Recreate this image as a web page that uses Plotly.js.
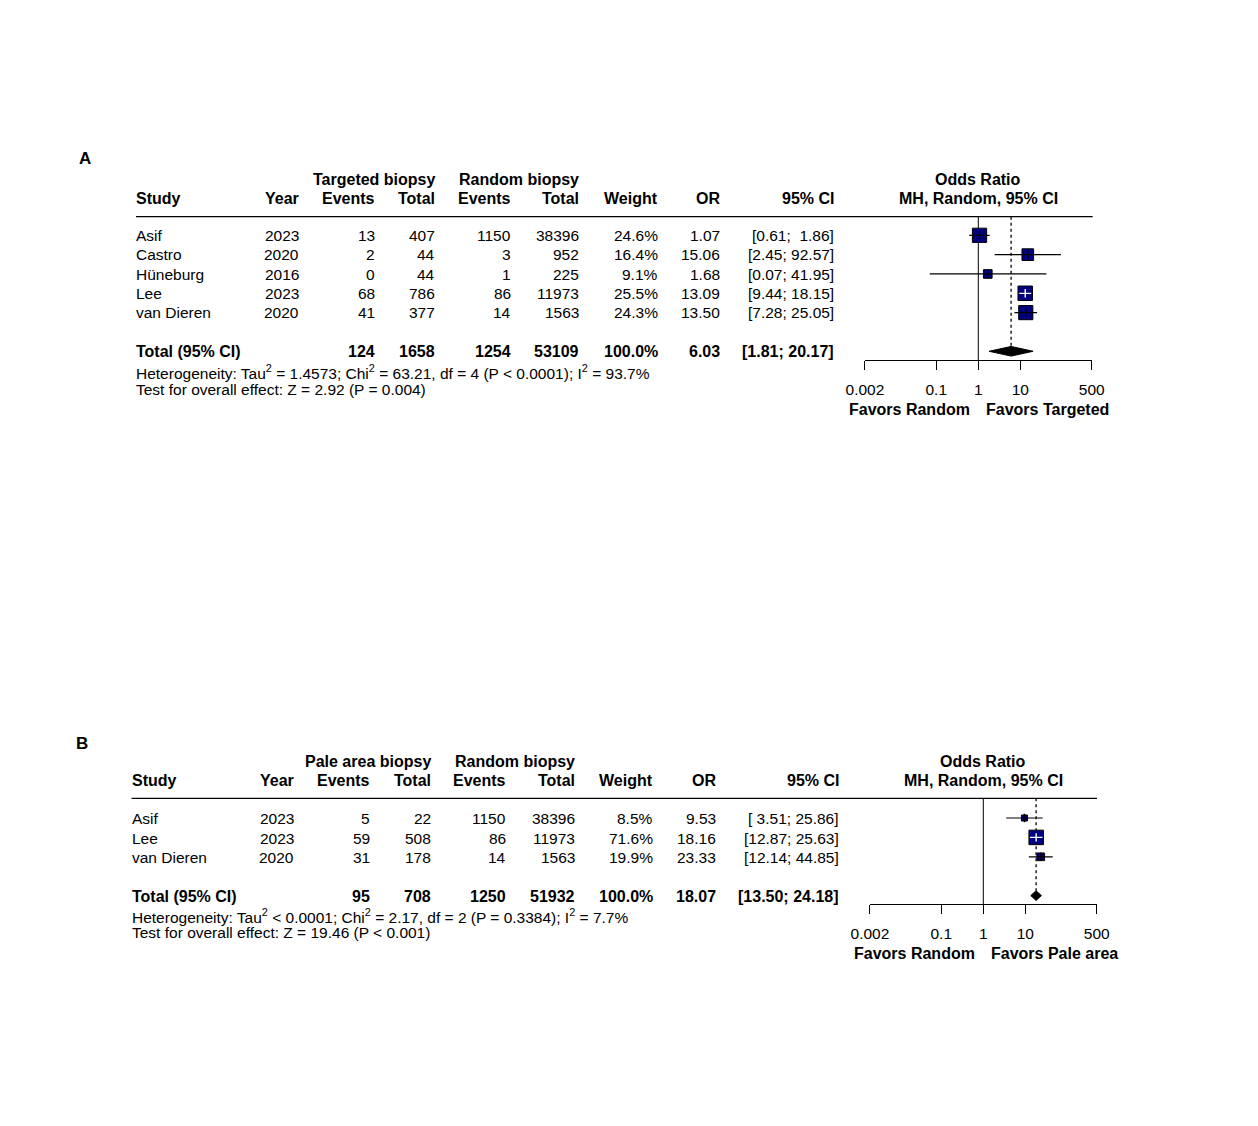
<!DOCTYPE html>
<html><head><meta charset="utf-8">
<script src="https://cdn.plot.ly/plotly-3.0.1.min.js"></script>
<style>html,body{margin:0;padding:0;background:#fff}</style>
</head><body><div id="chart" style="width:1258px;height:1126px"></div>
<script>
// ---------- Panel A data ----------
const studiesA = ['Asif', 'Castro', 'Hüneburg', 'Lee', 'van Dieren'];
const yearsA   = [2023, 2020, 2016, 2023, 2020];
const evExpA   = [13, 2, 0, 68, 41];
const totExpA  = [407, 44, 44, 786, 377];
const evRndA   = [1150, 3, 1, 86, 14];
const totRndA  = [38396, 952, 225, 11973, 1563];
const weightA  = [24.6, 16.4, 9.1, 25.5, 24.3];
const orA      = [1.07, 15.06, 1.68, 13.09, 13.50];
const loA      = [0.61, 2.45, 0.07, 9.44, 7.28];
const hiA      = [1.86, 92.57, 41.95, 18.15, 25.05];
const totalA   = [124, 1658, 1254, 53109];      // events/total exp, events/total random
const pooledA  = [6.03, 1.81, 20.17];           // OR, lower, upper
const hetA     = 'Heterogeneity: Tau<sup>2</sup> = 1.4573; Chi<sup>2</sup> = 63.21, df = 4 (P &lt; 0.0001); I<sup>2</sup> = 93.7%';
const testA    = 'Test for overall effect: Z = 2.92 (P = 0.004)';
const groupA   = 'Targeted biopsy';
const favorsA  = ['Favors Random', 'Favors Targeted'];

// ---------- Panel B data ----------
const studiesB = ['Asif', 'Lee', 'van Dieren'];
const yearsB   = [2023, 2023, 2020];
const evExpB   = [5, 59, 31];
const totExpB  = [22, 508, 178];
const evRndB   = [1150, 86, 14];
const totRndB  = [38396, 11973, 1563];
const weightB  = [8.5, 71.6, 19.9];
const orB      = [9.53, 18.16, 23.33];
const loB      = [3.51, 12.87, 12.14];
const hiB      = [25.86, 25.63, 44.85];
const totalB   = [95, 708, 1250, 51932];
const pooledB  = [18.07, 13.50, 24.18];
const hetB     = 'Heterogeneity: Tau<sup>2</sup> &lt; 0.0001; Chi<sup>2</sup> = 2.17, df = 2 (P = 0.3384); I<sup>2</sup> = 7.7%';
const testB    = 'Test for overall effect: Z = 19.46 (P &lt; 0.001)';
const groupB   = 'Pale area biopsy';
const favorsB  = ['Favors Random', 'Favors Pale area'];

// shared
const tickVals   = [0.002, 0.1, 1, 10, 500];
const tickLabels = ['0.002', '0.1', '1', '10', '500'];
const axisMin = 0.002, axisMax = 500;

// ---------- layout helpers ----------
const W = 1258, H = 1126;
const FONT = '"Liberation Sans", Arial, Helvetica, sans-serif';
const FS = 15.5, FSB = 16;
const px = x => x / W;
const py = y => 1 - y / H;
const NB = '\u00A0';
function padL(s, n) { while (s.length < n) s = NB + s; return s; }
function ciText(lo, hi) {
  const ls = lo.map(v => v.toFixed(2)), hs = hi.map(v => v.toFixed(2));
  const ln = Math.max(...ls.map(s => s.length)), hn = Math.max(...hs.map(s => s.length));
  return ls.map((s, i) => '[' + padL(s, ln) + ';' + NB + padL(hs[i], hn) + ']');
}

const traces = [], annotations = [], shapes = [], layout = {};

function buildPanel(p) {
  const n = p.studies.length;
  const rowPx = r => p.row0 + p.step * r;
  const rowOf = y => (y - p.row0) / p.step;
  const xa = p.ax === 1 ? 'x' : 'x' + p.ax, ya = p.ax === 1 ? 'y' : 'y' + p.ax;
  const xk = p.ax === 1 ? 'xaxis' : 'xaxis' + p.ax, yk = p.ax === 1 ? 'yaxis' : 'yaxis' + p.ax;
  const rows = p.studies.map((_, i) => i);
  const totRow = n + 1;

  layout[xk] = {
    type: 'log', domain: [px(p.fx0), px(p.fx1)],
    range: [Math.log10(axisMin), Math.log10(axisMax)],
    anchor: 'free', position: py(p.axisY),
    showline: true, linecolor: '#000', linewidth: 1, mirror: false,
    ticks: 'outside', ticklen: 9, tickwidth: 1, tickcolor: '#000',
    tickmode: 'array', tickvals: tickVals, ticktext: tickLabels,
    tickfont: { family: FONT, size: FS, color: '#000' },
    ticklabelstandoff: 6,
    showgrid: false, zeroline: false, fixedrange: true
  };
  layout[yk] = {
    domain: [py(p.yBot), py(p.yTop)], range: [rowOf(p.yBot), rowOf(p.yTop)],
    anchor: xa, visible: false, showgrid: false, zeroline: false, fixedrange: true
  };

  // null line and pooled dashed line
  traces.push({ x: [1, 1], y: [rowOf(p.headY), rowOf(p.axisY)], xaxis: xa, yaxis: ya,
    mode: 'lines', line: { color: '#000', width: 1 }, hoverinfo: 'skip' });
  traces.push({ x: [p.pooled[0], p.pooled[0]], y: [rowOf(p.headY), totRow - 0.25], xaxis: xa, yaxis: ya,
    mode: 'lines', line: { color: '#000', width: 1.3, dash: '3px,3px' }, hoverinfo: 'skip' });

  // squares
  const maxW = Math.max(...p.weight);
  const sizes = p.weight.map(w => Math.max(6, 14.5 * Math.sqrt(w / maxW)));
  traces.push({ x: p.or, y: rows, xaxis: xa, yaxis: ya, mode: 'markers',
    marker: { symbol: 'square', size: sizes, color: '#000080', opacity: 1, line: { color: '#000', width: 1 } },
    hoverinfo: 'skip' });

  // CI lines (white when the interval lies inside the square)
  const pxPerDec = (p.fx1 - p.fx0) / (Math.log10(axisMax) - Math.log10(axisMin));
  const inside = rows.map(i => Math.log10(p.hi[i] / p.lo[i]) * pxPerDec < sizes[i]);
  ['#000', '#fff'].forEach((col, k) => {
    const xs = [], ys = [];
    rows.forEach(i => { if (inside[i] === (k === 1)) { xs.push(p.lo[i], p.hi[i], null); ys.push(i, i, null); } });
    traces.push({ x: xs, y: ys, xaxis: xa, yaxis: ya, mode: 'lines',
      line: { color: col, width: 1.2 }, hoverinfo: 'skip', connectgaps: false });
  });
  traces.push({ x: p.or, y: rows, xaxis: xa, yaxis: ya, mode: 'markers',
    marker: { symbol: 'line-ns', size: 6, opacity: 1, line: { color: inside.map(b => b ? '#fff' : '#000'), width: 1.4 } },
    hoverinfo: 'skip' });

  // pooled diamond
  const [est, plo, phi] = p.pooled;
  traces.push({ x: [plo, est, phi, est, plo], y: [totRow, totRow - 0.25, totRow, totRow + 0.25, totRow],
    xaxis: xa, yaxis: ya, mode: 'lines', fill: 'toself', fillcolor: '#000',
    line: { color: '#000', width: 1 }, hoverinfo: 'skip' });

  // header rule
  shapes.push({ type: 'line', xref: 'paper', yref: 'paper', x0: px(p.ruleX0), x1: px(p.ruleX1),
    y0: py(p.headY), y1: py(p.headY), line: { color: '#000', width: 1.2 } });

  // text helpers
  const txt = (text, x, y, anchor, bold, size) => annotations.push({
    text: bold ? '<b>' + text + '</b>' : text, x: px(x), y: py(y), xref: 'paper', yref: 'paper',
    xanchor: anchor, yanchor: 'middle', showarrow: false, borderpad: 0, borderwidth: 0,
    font: { family: FONT, size: size || (bold ? FSB : FS), color: '#000' } });
  const c = p.cols;

  txt(p.letter, p.letterX, p.letterY, 'center', true, 17);
  txt(p.group, c.totE, p.groupY, 'right', true);
  txt('Random biopsy', c.totR, p.groupY, 'right', true);
  txt('Odds Ratio', p.titleX, p.groupY, 'center', true);
  txt('Study', c.study, p.hdrY, 'left', true);
  txt('Year', c.year, p.hdrY, 'right', true);
  txt('Events', c.evE, p.hdrY, 'right', true);
  txt('Total', c.totE, p.hdrY, 'right', true);
  txt('Events', c.evR, p.hdrY, 'right', true);
  txt('Total', c.totR, p.hdrY, 'right', true);
  txt('Weight', c.wt, p.hdrY, 'right', true);
  txt('OR', c.or, p.hdrY, 'right', true);
  txt('95% CI', c.ci, p.hdrY, 'right', true);
  txt('MH, Random, 95% CI', p.titleX, p.hdrY, 'center', true);

  const cis = ciText(p.lo, p.hi);
  rows.forEach(i => {
    const y = rowPx(i) + p.textDy;
    txt(p.studies[i], c.study, y, 'left');
    txt(String(p.years[i]), c.year, y, 'right');
    txt(String(p.evE[i]), c.evE, y, 'right');
    txt(String(p.totE[i]), c.totE, y, 'right');
    txt(String(p.evR[i]), c.evR, y, 'right');
    txt(String(p.totR[i]), c.totR, y, 'right');
    txt(p.weight[i].toFixed(1) + '%', c.wt, y, 'right');
    txt(p.or[i].toFixed(2), c.or, y, 'right');
    txt(cis[i], c.ci, y, 'right');
  });
  const ty = rowPx(totRow) + p.textDy;
  const wSum = p.weight.reduce((a, b) => a + b, 0);
  txt('Total (95% CI)', c.study, ty, 'left', true);
  txt(String(p.total[0]), c.evE, ty, 'right', true);
  txt(String(p.total[1]), c.totE, ty, 'right', true);
  txt(String(p.total[2]), c.evR, ty, 'right', true);
  txt(String(p.total[3]), c.totR, ty, 'right', true);
  txt(Math.round(wSum).toFixed(1) + '%', c.wt, ty, 'right', true);
  txt(est.toFixed(2), c.or, ty, 'right', true);
  txt('[' + plo.toFixed(2) + ';' + NB + phi.toFixed(2) + ']', c.ci, ty, 'right', true);
  txt(p.het, c.study, p.hetY, 'left');
  txt(p.test, c.study, p.testY, 'left');

  const nullPx = p.fx0 + (0 - Math.log10(axisMin)) * pxPerDec;
  txt(p.favors[0], nullPx - 8.5, p.favY, 'right', true);
  txt(p.favors[1], nullPx + 8, p.favY, 'left', true);
}

buildPanel({
  ax: 1, letter: 'A', letterX: 85, letterY: 158.5,
  studies: studiesA, years: yearsA, evE: evExpA, totE: totExpA, evR: evRndA, totR: totRndA,
  weight: weightA, or: orA, lo: loA, hi: hiA, total: totalA, pooled: pooledA,
  het: hetA, test: testA, group: groupA, favors: favorsA,
  row0: 235.3, step: 19.33, textDy: 0.2, yTop: 140, yBot: 430,
  fx0: 864.9, fx1: 1091.7, axisY: 360.3, headY: 216.7, ruleX0: 136, ruleX1: 1092.7,
  groupY: 179.3, hdrY: 198.3, titleX: 978, hetY: 372.5, testY: 389.3, favY: 409,
  cols: { study: 136, year: 298.7, evE: 375, totE: 435.3, evR: 511, totR: 579.3, wt: 658.3, or: 720.3, ci: 834.3 }
});
buildPanel({
  ax: 2, letter: 'B', letterX: 82, letterY: 743.5,
  studies: studiesB, years: yearsB, evE: evExpB, totE: totExpB, evR: evRndB, totR: totRndB,
  weight: weightB, or: orB, lo: loB, hi: hiB, total: totalB, pooled: pooledB,
  het: hetB, test: testB, group: groupB, favors: favorsB,
  row0: 818.0, step: 19.4, textDy: 0.6, yTop: 720, yBot: 985,
  fx0: 869.9, fx1: 1096.7, axisY: 904.3, headY: 798.3, ruleX0: 131.5, ruleX1: 1097,
  groupY: 761.5, hdrY: 780.3, titleX: 983, hetY: 915.5, testY: 932.3, favY: 953,
  cols: { study: 132.3, year: 293.7, evE: 370, totE: 431, evR: 506, totR: 574.7, wt: 653.3, or: 716.3, ci: 838.7 }
});

Object.assign(layout, {
  width: W, height: H, margin: { l: 0, r: 0, t: 0, b: 0, pad: 0 },
  paper_bgcolor: '#fff', plot_bgcolor: 'rgba(0,0,0,0)',
  showlegend: false, hovermode: false,
  font: { family: FONT, size: FS, color: '#000' },
  annotations, shapes
});

Plotly.newPlot('chart', traces, layout, { staticPlot: true, displayModeBar: false });
</script>
</body></html>
